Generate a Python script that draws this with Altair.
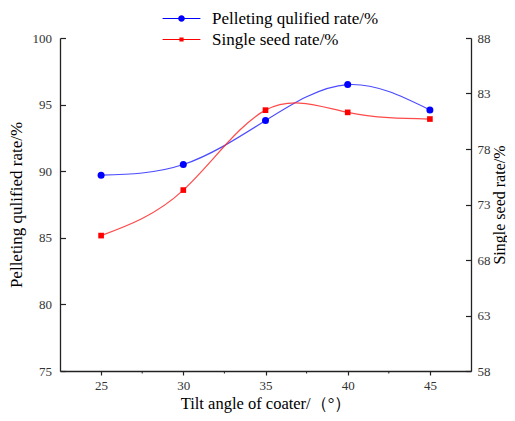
import altair as alt
import pandas as pd

# ---- data ----
angles = [25, 30, 35, 40, 45]
pelleting_rate = [89.7, 90.5, 93.8, 96.5, 94.6]
single_seed_rate = [70.2, 74.3, 81.5, 81.3, 80.7]
x_ticks = [25, 30, 35, 40, 45]
minor_ticks = [27.5, 32.5, 37.5, 42.5]
left_ticks = [75, 80, 85, 90, 95, 100]
right_ticks = [58, 63, 68, 73, 78, 83, 88]
series_names = ["Pelleting qulified rate/%", "Single seed rate/%"]
series_colors = ["#0000ff", "#ff0000"]

FONT = "Liberation Serif"
W, H = 411, 333
AXC = "#222222"

blue_df = pd.DataFrame({"angle": angles, "value": pelleting_rate})
red_df = pd.DataFrame({"angle": angles, "value": single_seed_rate})
minor_df = pd.DataFrame({"m": minor_ticks})
legend_df = pd.DataFrame({"series": series_names})

axis_style = dict(labelFont=FONT, labelFontSize=13, labelColor="#333333",
                  titleFont=FONT, titleColor="black",
                  titleFontWeight="normal", grid=False)

x_scale = alt.Scale(domain=[22.5, 47.5], nice=False, zero=False)
x_axis = alt.Axis(values=x_ticks, title="Tilt angle of coater/（°）", tickSize=4,
                  labelPadding=4, titleY=32, titleBaseline="middle",
                  titleFontSize=16.5, **axis_style)
x_enc = alt.X("angle:Q", scale=x_scale, axis=x_axis)

left_axis = alt.Axis(orient="left", values=left_ticks, title="Pelleting qulified rate/%",
                     tickSize={"expr": "-5.5"}, labelPadding=14,
                     titleX=-44, titleY=H / 2, titleAngle=270, titleFontSize=17,
                     titleBaseline="middle", titleAlign="center", **axis_style)
right_axis = alt.Axis(orient="right", values=right_ticks, title="Single seed rate/%",
                      tickSize={"expr": "-5.5"}, labelPadding=11.5,
                      titleX=28, titleY=H / 2, titleAngle=270, titleFontSize=16,
                      titleBaseline="middle", titleAlign="center", **axis_style)

y_left = alt.Y("value:Q", scale=alt.Scale(domain=[75, 100], nice=False, zero=False), axis=left_axis)
y_right = alt.Y("value:Q", scale=alt.Scale(domain=[58, 88], nice=False, zero=False), axis=right_axis)

blue_line = alt.Chart(blue_df).mark_line(interpolate="natural", color="#2a2aff",
                                         strokeWidth=1.2, opacity=0.85).encode(x=x_enc, y=y_left)
blue_pts = alt.Chart(blue_df).mark_point(filled=True, shape="circle", size=49,
                                         color=series_colors[0], opacity=1).encode(x=x_enc, y=y_left)

circ_path = ("M-5.4,-0.15H-0.9V0.15H-5.4Z M0.9,-0.15H5.4V0.15H0.9Z "
             "M-0.95,0A0.95,0.95 0 1,1 0.95,0A0.95,0.95 0 1,1 -0.95,0Z")
sq_path = ("M-5.4,-0.15H-0.6V0.15H-5.4Z M0.6,-0.15H5.4V0.15H0.6Z "
           "M-0.6,-0.6H0.6V0.6H-0.6Z")

leg = alt.Legend(orient="none", legendX=113, legendY=-28, title=None,
                 labelFont=FONT, labelFontSize=17, labelColor="black", labelLimit=400,
                 symbolSize=49, labelOffset=22, rowPadding=3,
                 symbolStrokeWidth=0, padding=0)

legend_layer = alt.Chart(legend_df).mark_point(filled=True, opacity=1).encode(
    color=alt.Color("series:N", scale=alt.Scale(domain=series_names, range=series_colors), legend=leg),
    shape=alt.Shape("series:N", scale=alt.Scale(domain=series_names, range=[circ_path, sq_path]), legend=leg),
).transform_filter("false")

minor_rules = alt.Chart(minor_df).mark_rule(color=AXC, strokeWidth=1).encode(
    x=alt.X("m:Q", scale=x_scale), y=alt.value(H), y2=alt.value(H + 2.5))

red_line = alt.Chart(red_df).mark_line(interpolate="natural", color="#ff2a2a",
                                       strokeWidth=1.2, opacity=0.85).encode(x=x_enc, y=y_right)
red_pts = alt.Chart(red_df).mark_point(filled=True, shape="square", size=32,
                                       color=series_colors[1], opacity=1).encode(x=x_enc, y=y_right)

left_group = alt.layer(blue_line, blue_pts, minor_rules, legend_layer)
right_group = alt.layer(red_line, red_pts)

chart = alt.layer(left_group, right_group).resolve_scale(y="independent").properties(
    width=W, height=H,
    autosize=alt.AutoSizeParams(type="none"),
    padding={"left": 52, "top": 30, "right": 36, "bottom": 42},
).configure(font=FONT).configure_view(stroke=None).configure_axis(
    grid=False, domainColor=AXC, domainWidth=1.3, tickColor=AXC, tickWidth=1.2,
    labelFont=FONT, titleFont=FONT,
)

chart.save("out.html", embed_options={"renderer": "svg", "actions": False})
